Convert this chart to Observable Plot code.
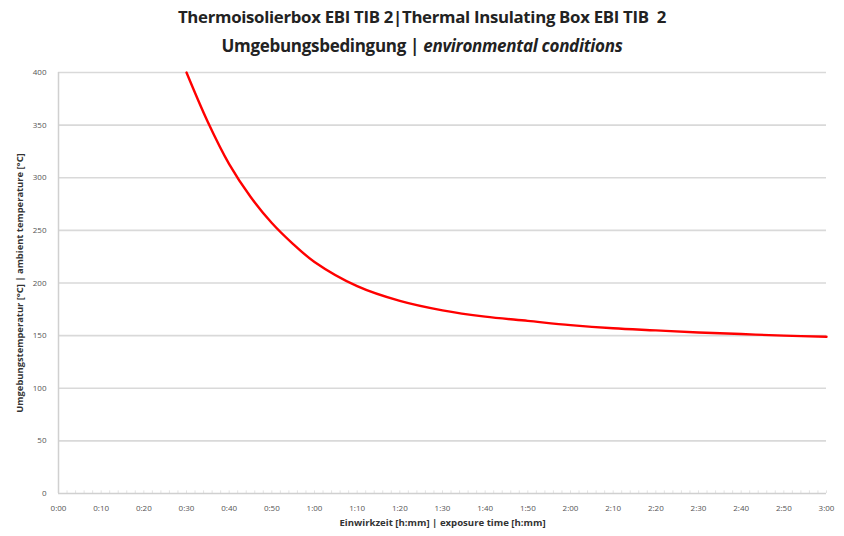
<!DOCTYPE html>
<html>
<head>
<meta charset="utf-8">
<script src="https://cdn.jsdelivr.net/npm/d3@7"></script>
<script src="https://cdn.jsdelivr.net/npm/@observablehq/plot@0.6"></script>
<style>
  html, body { margin: 0; padding: 0; background: #fff; }
  #wrap { width: 844px; height: 536px; position: relative; font-family: "Open Sans", "Liberation Sans", sans-serif; }
  #title { height: 60px; text-align: center; font-weight: bold; color: #222; line-height: 29px; padding-top: 2px; box-sizing: border-box; letter-spacing: -0.3px; }
  #title .l1 { font-size: 16.8px; }
  #title .l2 { font-size: 17px; }
  svg { display: block; }
</style>
</head>
<body>
<div id="wrap">
  <div id="title">
    <div class="l1">Thermoisolierbox EBI TIB 2|Thermal Insulating Box EBI TIB&nbsp; 2</div>
    <div class="l2">Umgebungsbedingung | <i>environmental conditions</i></div>
  </div>
  <div id="chart"></div>
</div>
<script>
// exposure time in minutes
const minutes = [30, 35, 40, 45, 50, 55, 60, 70, 80, 90, 100, 110, 120, 130, 140, 150, 160, 170, 180];
// ambient temperature in °C
const temps   = [400, 353, 313, 282, 257, 237, 220, 197, 183, 174, 168, 164, 160, 157, 155, 153, 151.5, 150, 149];
const xTicks = [0, 10, 20, 30, 40, 50, 60, 70, 80, 90, 100, 110, 120, 130, 140, 150, 160, 170, 180];
const yTicks = [0, 50, 100, 150, 200, 250, 300, 350, 400];
const xLabel = "Einwirkzeit [h:mm] | exposure time [h:mm]";
const yLabel = "Umgebungstemperatur [°C] | ambient temperature [°C]";

const data = minutes.map((m, i) => ({m, t: temps[i]}));
const fmt = m => `${Math.floor(m / 60)}:${String(m % 60).padStart(2, "0")}`;
const minorTicks = d3.range(0, 181, 2);

const plot = Plot.plot({
  width: 844,
  height: 476,
  marginTop: 12,
  marginBottom: 43,
  marginLeft: 58,
  marginRight: 18,
  style: {fontFamily: "'Open Sans', 'Liberation Sans', sans-serif", fontSize: "8px", color: "#555"},
  x: {type: "linear", domain: [0, 180], label: null},
  y: {type: "linear", domain: [0, 400], label: null},
  marks: [
    Plot.ruleY(yTicks.filter(d => d > 0), {stroke: "#d9d9d9", strokeWidth: 1.6}),
    Plot.ruleX(minorTicks, {x: d => d, y1: 0, y2: 2.5, stroke: "#dcdcdc", strokeWidth: 0.8}),
    Plot.ruleX([0], {stroke: "#d0d0d0", strokeWidth: 1.5}),
    Plot.ruleY([0], {stroke: "#d0d0d0", strokeWidth: 1.5}),
    Plot.axisX({ticks: xTicks, tickFormat: fmt, tickSize: 0, tickPadding: 12, fontSize: 8, label: null}),
    Plot.axisY({ticks: yTicks, tickSize: 0, tickPadding: 12, fontSize: 8, label: null}),
    Plot.line(data, {x: "m", y: "t", stroke: "#ff0000", strokeWidth: 2.4, curve: "catmull-rom"}),
    Plot.text([xLabel], {frameAnchor: "bottom", dy: 32, text: d => d, fontWeight: "bold", fontSize: 9.6, fill: "#333"}),
    Plot.text([yLabel], {frameAnchor: "left", dx: -39, rotate: -90, textAnchor: "middle", text: d => d, fontWeight: "bold", fontSize: 9.4, fill: "#333"})
  ]
});
document.getElementById("chart").appendChild(plot);
</script>
</body>
</html>
